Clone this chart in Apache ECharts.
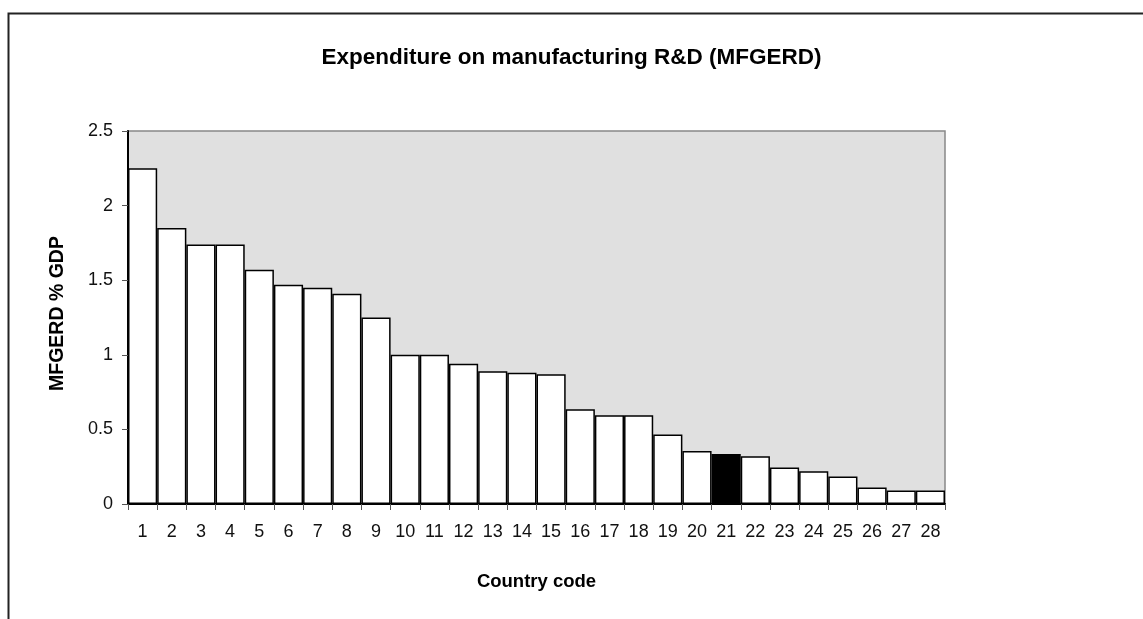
<!DOCTYPE html>
<html>
<head>
<meta charset="utf-8">
<script src="https://cdn.jsdelivr.net/npm/echarts@6/dist/echarts.min.js"></script>
<style>
  html, body { margin: 0; padding: 0; background: #fff; }
  #chart { width: 1143px; height: 619px; }
</style>
</head>
<body>
<div id="chart"></div>
<script>
var countries = ['1','2','3','4','5','6','7','8','9','10','11','12','13','14',
                 '15','16','17','18','19','20','21','22','23','24','25','26','27','28'];
var mfgerd = [2.25, 1.85, 1.74, 1.74, 1.57, 1.47, 1.45, 1.41, 1.25, 1.00, 1.00, 0.94, 0.89, 0.88,
              0.87, 0.635, 0.595, 0.595, 0.465, 0.355, 0.335, 0.32, 0.245, 0.22, 0.185, 0.11, 0.09, 0.09];
var highlight = '21';

var chart = echarts.init(document.getElementById('chart'));

// bar colours: white, the highlighted country black
var barData = mfgerd.map(function (v, i) {
    return {
        value: v,
        itemStyle: { color: countries[i] === highlight ? '#000' : '#fff' }
    };
});

var font = '"Liberation Sans", Arial, sans-serif';

chart.setOption({
    animation: false,
    backgroundColor: '#fff',
    title: {
        text: 'Expenditure on manufacturing R&D (MFGERD)',
        left: 'center',
        top: 41,
        textStyle: { fontFamily: font, fontSize: 22.5, fontWeight: 'bold', color: '#000' }
    },
    graphic: [{
        type: 'rect',
        shape: { x: 8.5, y: 13.5, width: 1300, height: 800 },
        style: { fill: null, stroke: '#222', lineWidth: 2 },
        silent: true
    }],
    grid: {
        left: 128, right: 198, top: 131, bottom: 115,
        show: true,
        backgroundColor: '#e0e0e0',
        borderColor: '#888',
        borderWidth: 1.5
    },
    xAxis: {
        type: 'category',
        data: countries,
        name: 'Country code',
        nameLocation: 'middle',
        nameGap: 68,
        nameTextStyle: { fontFamily: font, fontSize: 18.5, fontWeight: 'bold', color: '#000' },
        axisLine: { lineStyle: { color: '#000', width: 2 } },
        axisTick: { show: true, length: 6, lineStyle: { color: '#555', width: 1 } },
        axisLabel: { fontFamily: font, fontSize: 18, color: '#111', margin: 19 },
        splitLine: { show: false }
    },
    yAxis: {
        type: 'value',
        min: 0,
        max: 2.5,
        interval: 0.5,
        name: 'MFGERD % GDP',
        nameLocation: 'middle',
        nameGap: 60,
        nameTextStyle: { fontFamily: font, fontSize: 19.5, fontWeight: 'bold', color: '#000', padding: [0, 0, 0, 8] },
        axisLine: { show: true, lineStyle: { color: '#000', width: 2 } },
        axisTick: { show: true, length: 6, lineStyle: { color: '#555', width: 1 } },
        axisLabel: { fontFamily: font, fontSize: 18, color: '#111', margin: 15 },
        splitLine: { show: false }
    },
    series: [{
        type: 'bar',
        data: barData,
        barCategoryGap: 0,
        itemStyle: { borderColor: '#000', borderWidth: 1.5 }
    }]
});
</script>
</body>
</html>
